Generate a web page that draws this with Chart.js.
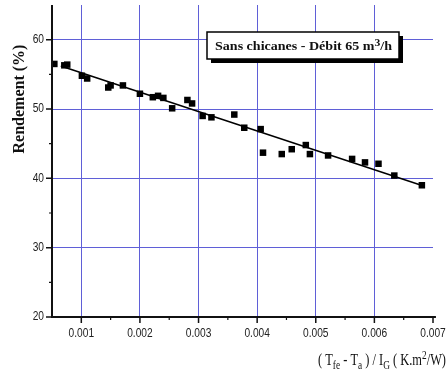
<!DOCTYPE html>
<html>
<head>
<meta charset="utf-8">
<script src="https://cdn.jsdelivr.net/npm/chart.js@4/dist/chart.umd.min.js"></script>
<style>
html, body { margin: 0; padding: 0; background: #fff; }
#wrap { width: 448px; height: 374px; }
</style>
</head>
<body>
<div id="wrap"><canvas id="myChart"></canvas></div>
<script>
// measured points (x = (Tfe - Ta)/IG, y = rendement %)
const xValues = [0.00054, 0.00071, 0.00076, 0.00101, 0.00110, 0.00146, 0.00150, 0.00171,
  0.00200, 0.00222, 0.00231, 0.00240, 0.00255, 0.00281, 0.00289, 0.00307, 0.00322,
  0.00361, 0.00378, 0.00406, 0.00410, 0.00442, 0.00459, 0.00483, 0.00490, 0.00521,
  0.00562, 0.00584, 0.00607, 0.00634, 0.00681];
const yValues = [56.5, 56.3, 56.4, 54.8, 54.4, 53.1, 53.4, 53.4,
  52.2, 51.7, 51.9, 51.6, 50.1, 51.3, 50.8, 49.0, 48.8,
  49.2, 47.3, 47.1, 43.7, 43.5, 44.2, 44.8, 43.5, 43.3,
  42.8, 42.3, 42.1, 40.4, 39.0];
// linear fit line end points
const fitX = [0.00065, 0.0068];
const fitY = [56.2, 39.0];
const xTicks = [0.001, 0.002, 0.003, 0.004, 0.005, 0.006, 0.007];
const xTickLabels = ['0.001', '0.002', '0.003', '0.004', '0.005', '0.006', '0.007'];
const xMinorTicks = [0.0015, 0.0025, 0.0035, 0.0045, 0.0055, 0.0065];
const yTicks = [20, 30, 40, 50, 60];
const yTickLabels = ['20', '30', '40', '50', '60'];
const yMinorTicks = [25, 35, 45, 55];
const boxLabel = ['Sans chicanes - Débit 65 m', '3', '/h'];

const gridBlue = 'rgb(95,95,215)';
const serif = '"Liberation Serif", "Times New Roman", serif';
const sans = '"Liberation Sans", Arial, sans-serif';

// draws text pieces one after the other, squeezed horizontally to the given width
function drawRich(ctx, parts, x, y, width) {
  // parts: [text, size, dy, bold]
  let total = 0;
  parts.forEach(p => {
    ctx.font = (p[3] ? 'bold ' : '') + p[1] + 'px ' + serif;
    total += ctx.measureText(p[0]).width;
  });
  const k = width ? width / total : 1;
  ctx.save();
  ctx.translate(x, y);
  ctx.scale(k, 1);
  let cx = 0;
  parts.forEach(p => {
    ctx.font = (p[3] ? 'bold ' : '') + p[1] + 'px ' + serif;
    ctx.fillText(p[0], cx, p[2]);
    cx += ctx.measureText(p[0]).width;
  });
  ctx.restore();
}

function narrowText(ctx, text, x, y) {
  ctx.save();
  ctx.translate(x, y);
  ctx.scale(0.85, 1);
  ctx.fillText(text, 0, 0);
  ctx.restore();
}

const extras = {
  id: 'extras',
  afterDraw(chart) {
    const ctx = chart.ctx;
    const xs = chart.scales.x, ys = chart.scales.y;
    const left = xs.left, bottom = ys.bottom, top = ys.top;
    ctx.save();
    ctx.strokeStyle = '#111';
    ctx.fillStyle = '#111';
    // axis lines
    ctx.lineWidth = 2;
    ctx.beginPath();
    ctx.moveTo(left, top);
    ctx.lineTo(left, bottom);
    ctx.lineTo(xs.getPixelForValue(0.00705), bottom);
    ctx.stroke();
    // ticks
    ctx.lineWidth = 1.5;
    ctx.beginPath();
    yTicks.forEach(v => { const p = ys.getPixelForValue(v); ctx.moveTo(left - 6, p); ctx.lineTo(left, p); });
    xTicks.forEach(v => { const p = xs.getPixelForValue(v); ctx.moveTo(p, bottom); ctx.lineTo(p, bottom + 6); });
    ctx.stroke();
    ctx.lineWidth = 1.2;
    ctx.beginPath();
    yMinorTicks.forEach(v => { const p = ys.getPixelForValue(v); ctx.moveTo(left - 3, p); ctx.lineTo(left, p); });
    xMinorTicks.forEach(v => { const p = xs.getPixelForValue(v); ctx.moveTo(p, bottom); ctx.lineTo(p, bottom + 3); });
    ctx.stroke();

    // tick labels
    ctx.fillStyle = '#222';
    ctx.font = '12px ' + sans;
    ctx.textBaseline = 'middle';
    ctx.textAlign = 'right';
    yTicks.forEach((v, i) => narrowText(ctx, yTickLabels[i], 44, ys.getPixelForValue(v)));
    ctx.textAlign = 'center';
    xTicks.forEach((v, i) => narrowText(ctx, xTickLabels[i], xs.getPixelForValue(v), 334));

    // annotation box with shadow
    const bx = 207, by = 32, bw = 192, bh = 27;
    ctx.fillStyle = '#000';
    ctx.fillRect(bx + 4, by + 4, bw, bh);
    ctx.fillStyle = '#fff';
    ctx.fillRect(bx, by, bw, bh);
    ctx.lineWidth = 1.5;
    ctx.strokeStyle = '#000';
    ctx.strokeRect(bx, by, bw, bh);
    ctx.fillStyle = '#111';
    ctx.textAlign = 'left';
    ctx.textBaseline = 'alphabetic';
    drawRich(ctx, [[boxLabel[0], 12, 0, true], [boxLabel[1], 10, -4, true], [boxLabel[2], 12, 0, true]], 215, 50, 177);

    // x title
    drawRich(ctx, [['( T', 16, 0], ['fe', 12, 4], [' - T', 16, 0], ['a', 12, 4], [' ) / I', 16, 0],
      ['G', 12, 4], [' ( K.m', 16, 0], ['2', 12, -6], ['/W)', 16, 0]], 318, 365, 128);

    // y title
    ctx.translate(24, 99);
    ctx.rotate(-Math.PI / 2);
    ctx.textAlign = 'center';
    ctx.font = 'bold 16px ' + serif;
    ctx.fillText('Rendement (%)', 0, 0);
    ctx.restore();
  }
};

const ctx1 = document.getElementById('myChart').getContext('2d');
const myChart = new Chart(ctx1, {
  type: 'scatter',
  data: {
    datasets: [{
      label: 'mesures',
      data: xValues.map((x, i) => ({ x: x, y: yValues[i] })),
      pointStyle: 'rect',
      pointRadius: 4.6,
      backgroundColor: '#000',
      borderColor: '#000',
      borderWidth: 0,
      order: 1
    }, {
      label: 'fit',
      type: 'line',
      data: fitX.map((x, i) => ({ x: x, y: fitY[i] })),
      borderColor: '#000',
      borderWidth: 1.5,
      pointRadius: 0,
      fill: false,
      order: 2
    }]
  },
  options: {
    responsive: true,
    maintainAspectRatio: false,
    animation: false,
    layout: { padding: { left: 0, top: 5, right: 15, bottom: 0 } },
    plugins: { legend: { display: false }, tooltip: { enabled: false } },
    scales: {
      x: {
        type: 'linear',
        min: 0.0005,
        max: 0.007,
        afterBuildTicks: s => { s.ticks = xTicks.map(v => ({ value: v })); },
        afterFit: s => { s.height = 57; },
        border: { display: false },
        grid: {
          drawTicks: false,
          lineWidth: 1,
          color: c => (c.tick && c.tick.value >= 0.00699) ? 'rgba(0,0,0,0)' : gridBlue
        },
        ticks: { display: false }
      },
      y: {
        type: 'linear',
        min: 20,
        max: 65,
        afterBuildTicks: s => { s.ticks = yTicks.map(v => ({ value: v })); },
        afterFit: s => { s.width = 52; },
        border: { display: false },
        grid: {
          drawTicks: false,
          lineWidth: 1,
          color: c => (c.tick && c.tick.value === 20) ? 'rgba(0,0,0,0)' : gridBlue
        },
        ticks: { display: false }
      }
    }
  },
  plugins: [extras]
});
</script>
</body>
</html>
